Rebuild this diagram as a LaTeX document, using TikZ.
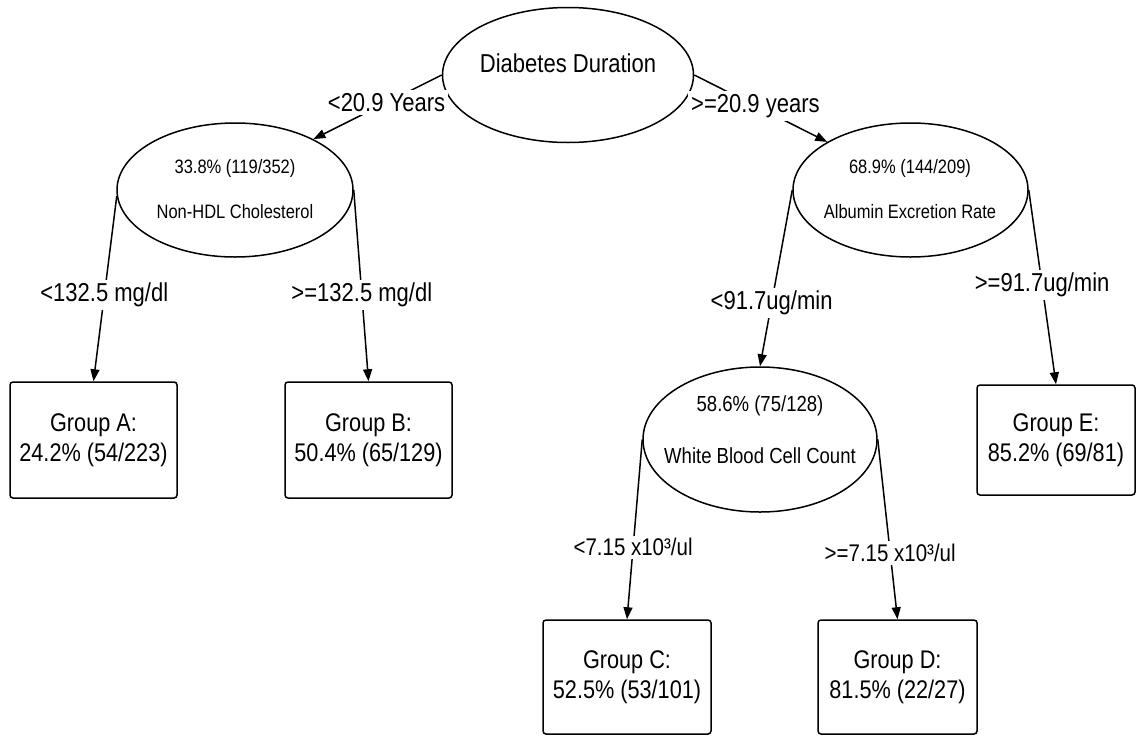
\documentclass[tikz,border=0pt]{standalone}
\usepackage{fontspec}
\setmainfont{Liberation Sans}[FakeStretch=0.85]
\usetikzlibrary{arrows.meta,shapes.geometric}

\begin{document}
\begin{tikzpicture}[
    x=1pt, y=-1pt,
    >={Triangle[length=12pt,width=9pt]},
    split/.style={ellipse, draw, line width=1.5pt, inner sep=0pt},
    splitTxt/.style={inner sep=0pt, font=\fontsize{19.4}{22}\selectfont},
    group/.style={rectangle, rounded corners=3pt, draw, line width=1.5pt,
      align=center, font=\fontsize{25.5}{30}\selectfont},
    cond/.style={fill=white, inner sep=3pt, font=\fontsize{25.9}{28}\selectfont},
    arr/.style={->, line width=1.5pt},
  ]
\useasboundingbox (0,0) rectangle (1137,736);

% Root split
\node[split, minimum width=251pt, minimum height=135pt] (root) at (568,75) {};
\node[inner sep=0pt, font=\fontsize{25.9}{28}\selectfont] (rootTxt) at (568,63) {Diabetes Duration};

% Second level splits
\node[split, minimum width=236pt, minimum height=134pt] (nonhdl) at (235,190) {};
\node[splitTxt] (nonhdlPct) at (235,168) {33.8\% (119/352)};
\node[splitTxt] (nonhdlTxt) at (235,212) {Non-HDL Cholesterol};

\node[split, minimum width=235pt, minimum height=134pt] (aer) at (910.5,190) {};
\node[splitTxt] (aerPct) at (910,168) {68.9\% (144/209)};
\node[splitTxt] (aerTxt) at (910,212) {Albumin Excretion Rate};

% Third level split
\node[split, minimum width=234pt, minimum height=145pt] (wbc) at (760,439.5) {};
\node[splitTxt, font=\fontsize{21.8}{24}\selectfont] (wbcPct) at (760,406) {58.6\% (75/128)};
\node[splitTxt, font=\fontsize{21.8}{24}\selectfont] (wbcTxt) at (760,456) {White Blood Cell Count};

% Terminal groups
\node[group, minimum width=167pt, minimum height=116pt] (grpA) at (93.5,440) {Group A:\\24.2\% (54/223)};
\node[group, minimum width=167pt, minimum height=116pt] (grpB) at (368.5,440) {Group B:\\50.4\% (65/129)};
\node[group, minimum width=158pt, minimum height=110pt] (grpE) at (1056,440) {Group E:\\85.2\% (69/81)};
\node[group, minimum width=168pt, minimum height=114pt] (grpC) at (627,677) {Group C:\\52.5\% (53/101)};
\node[group, minimum width=159pt, minimum height=114pt] (grpD) at (897.5,677) {Group D:\\81.5\% (22/27)};

% Connectors
\draw[arr] (root.west) -- node[cond, pos=0.43] {<20.9 Years} (nonhdl.33);
\draw[arr] (root.east) -- node[cond, pos=0.46] {>=20.9 years} (aer.150);
\draw[arr] (nonhdl.183) -- node[cond, pos=0.535] {<132.5 mg/dl} (grpA.north);
\draw[arr] (nonhdl.east) -- node[cond, pos=0.55] {>=132.5 mg/dl} (grpB.north);
\draw[arr] (aer.west) -- node[cond, pos=0.64] {<91.7ug/min} (wbc.north);
\draw[arr] (aer.east) -- node[cond, pos=0.49] {>=91.7ug/min} (grpE.north);
\draw[arr] (wbc.west) -- node[cond, pos=0.6, font=\fontsize{24.1}{26}\selectfont] {<7.15 x10³/ul} (grpC.north);
\draw[arr] (wbc.east) -- node[cond, pos=0.63, font=\fontsize{24.1}{26}\selectfont] {>=7.15 x10³/ul} (grpD.north);

\end{tikzpicture}
\end{document}
